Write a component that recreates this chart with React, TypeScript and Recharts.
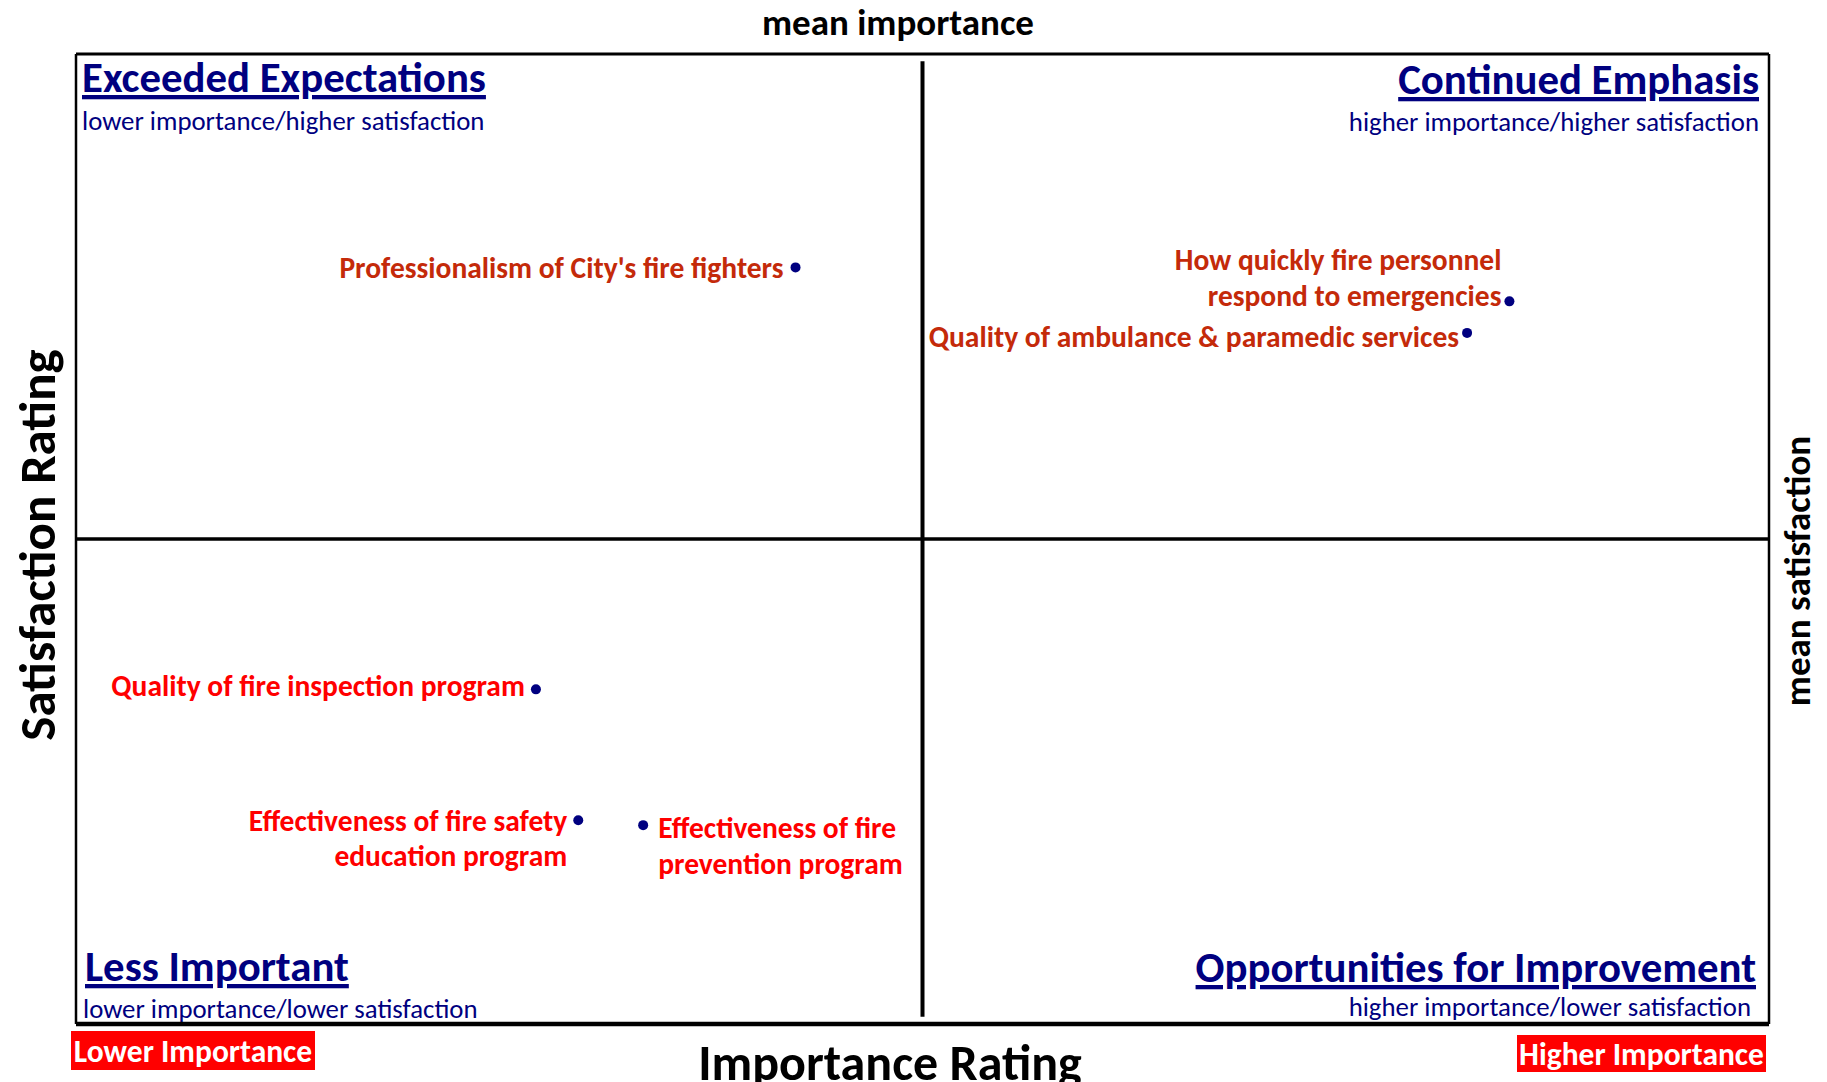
import React from "react";
import {
  ScatterChart,
  Scatter,
  XAxis,
  YAxis,
  ReferenceLine,
  Customized,
} from "recharts";

// ---------- data ----------
const items = [
  "Professionalism of City's fire fighters",
  "How quickly fire personnel respond to emergencies",
  "Quality of ambulance & paramedic services",
  "Quality of fire inspection program",
  "Effectiveness of fire safety education program",
  "Effectiveness of fire prevention program",
];
const importance = [25.5, 50.8, 49.3, 16.3, 17.8, 20.1];
const satisfaction = [86.2, 84.8, 83.5, 68.8, 63.4, 63.2];
const labelLines = [
  ["Professionalism of City's fire fighters"],
  ["How quickly fire personnel", "respond to emergencies"],
  ["Quality of ambulance & paramedic services"],
  ["Quality of fire inspection program"],
  ["Effectiveness of fire safety", "education program"],
  ["Effectiveness of fire", "prevention program"],
];
const meanImportance = 30;
const meanSatisfaction = 75;
const importanceDomain = [0, 60];
const satisfactionDomain = [55, 95];

const quadrantTitles = [
  "Exceeded Expectations",
  "Continued Emphasis",
  "Less Important",
  "Opportunities for Improvement",
];
const quadrantSubtitles = [
  "lower importance/higher satisfaction",
  "higher importance/higher satisfaction",
  "lower importance/lower satisfaction",
  "higher importance/lower satisfaction",
];

// ---------- style / layout ----------
const W = 1827;
const H = 1082;
const M = { top: 54, left: 76, right: 58, bottom: 58 };
const FONT = "Carlito, Lato, 'Open Sans', sans-serif";
const NAVY = "#00007F";
const DARKRED = "#C42A0A";
const RED = "#FF0000";

// label placement relative to the point (style, not data)
const placement = [
  { anchor: "end", dx: -12, dys: [1], color: DARKRED },
  { anchor: "end", dx: -8, dys: [-41, -5], color: DARKRED },
  { anchor: "end", dx: -8, dys: [4], color: DARKRED },
  { anchor: "end", dx: -11, dys: [-3], color: RED },
  { anchor: "end", dx: -11, dys: [1, 36], color: RED },
  { anchor: "start", dx: 15, dys: [3, 39], color: RED },
];

const data = items.map((name, i) => ({
  name,
  importance: importance[i],
  satisfaction: satisfaction[i],
  idx: i,
}));

const LABEL_SIZE = 29.5;

const PointShape = (props: any) => {
  const { cx, cy, payload } = props;
  const i = payload.idx;
  const p = placement[i];
  return (
    <g>
      <circle cx={cx} cy={cy} r={5} fill="#000080" />
      {labelLines[i].map((line, k) => (
        <text
          key={k}
          x={cx + p.dx}
          y={cy + p.dys[k]}
          textAnchor={p.anchor as any}
          dominantBaseline="central"
          fontFamily={FONT}
          fontWeight={700}
          fontSize={LABEL_SIZE}
          fill={p.color}
        >
          {line}
        </text>
      ))}
    </g>
  );
};

const Decorations = () => {
  const titleSize = 42.8;
  const subSize = 26.8;
  return (
    <g>
      <text x={898} y={22} textAnchor="middle" dominantBaseline="central" fontFamily={FONT} fontWeight={700} fontSize={37} fill="#000">
        mean importance
      </text>
      <text
        transform="translate(37,545) rotate(-90)"
        textAnchor="middle"
        dominantBaseline="central"
        fontFamily={FONT}
        fontWeight={700}
        fontSize={51}
        fill="#000"
      >
        Satisfaction Rating
      </text>
      <text
        transform="translate(1797,571) rotate(-90)"
        textAnchor="middle"
        dominantBaseline="central"
        fontFamily={FONT}
        fontWeight={700}
        fontSize={37}
        fill="#000"
      >
        mean satisfaction
      </text>
      <text x={890} y={1062} textAnchor="middle" dominantBaseline="central" fontFamily={FONT} fontWeight={700} fontSize={50} fill="#000">
        Importance Rating
      </text>

      <rect x={71} y={1031} width={244} height={39} fill={RED} />
      <text x={193} y={1051} textAnchor="middle" dominantBaseline="central" fontFamily={FONT} fontWeight={700} fontSize={31.5} fill="#fff">
        Lower Importance
      </text>
      <rect x={1517} y={1035} width={249} height={37} fill={RED} />
      <text x={1641.5} y={1054} textAnchor="middle" dominantBaseline="central" fontFamily={FONT} fontWeight={700} fontSize={31.5} fill="#fff">
        Higher Importance
      </text>

      {/* quadrant titles */}
      <text x={82} y={92} fontFamily={FONT} fontWeight={700} fontSize={titleSize} fill={NAVY} textDecoration="underline">
        {quadrantTitles[0]}
      </text>
      <text x={82} y={120} dominantBaseline="central" fontFamily={FONT} fontSize={subSize} fill={NAVY}>
        {quadrantSubtitles[0]}
      </text>
      <text x={1759} y={94} textAnchor="end" fontFamily={FONT} fontWeight={700} fontSize={titleSize} fill={NAVY} textDecoration="underline">
        {quadrantTitles[1]}
      </text>
      <text x={1759} y={121} textAnchor="end" dominantBaseline="central" fontFamily={FONT} fontSize={subSize} fill={NAVY}>
        {quadrantSubtitles[1]}
      </text>
      <text x={85} y={981} fontFamily={FONT} fontWeight={700} fontSize={titleSize} fill={NAVY} textDecoration="underline">
        {quadrantTitles[2]}
      </text>
      <text x={83} y={1008} dominantBaseline="central" fontFamily={FONT} fontSize={subSize} fill={NAVY}>
        {quadrantSubtitles[2]}
      </text>
      <text x={1756} y={982} textAnchor="end" fontFamily={FONT} fontWeight={700} fontSize={titleSize} fill={NAVY} textDecoration="underline">
        {quadrantTitles[3]}
      </text>
      <text x={1751} y={1006} textAnchor="end" dominantBaseline="central" fontFamily={FONT} fontSize={subSize} fill={NAVY}>
        {quadrantSubtitles[3]}
      </text>
    </g>
  );
};

export default function App() {
  const [xMin, xMax] = importanceDomain;
  const [yMin, yMax] = satisfactionDomain;
  const yInset = (yMax - yMin) * 0.0075;
  return (
    <div style={{ position: "absolute", left: 0, top: 0, width: W, height: H, background: "#fff" }}>
      <ScatterChart width={W} height={H} margin={M}>
        <XAxis type="number" dataKey="importance" domain={importanceDomain} hide />
        <YAxis type="number" dataKey="satisfaction" domain={satisfactionDomain} hide />
        {/* frame */}
        <ReferenceLine segment={[{ x: xMin, y: yMax }, { x: xMax, y: yMax }]} stroke="#000" strokeWidth={3} />
        <ReferenceLine segment={[{ x: xMin, y: yMin }, { x: xMax, y: yMin }]} stroke="#000" strokeWidth={4.5} />
        <ReferenceLine segment={[{ x: xMin, y: yMin }, { x: xMin, y: yMax }]} stroke="#000" strokeWidth={2.5} />
        <ReferenceLine segment={[{ x: xMax, y: yMin }, { x: xMax, y: yMax }]} stroke="#000" strokeWidth={2.5} />
        {/* means */}
        <ReferenceLine
          segment={[
            { x: meanImportance, y: yMin + yInset },
            { x: meanImportance, y: yMax - yInset },
          ]}
          stroke="#000"
          strokeWidth={4}
        />
        <ReferenceLine y={meanSatisfaction} stroke="#000" strokeWidth={3.5} />
        <Scatter data={data} shape={PointShape} isAnimationActive={false} />
        <Customized component={<Decorations />} />
      </ScatterChart>
    </div>
  );
}
